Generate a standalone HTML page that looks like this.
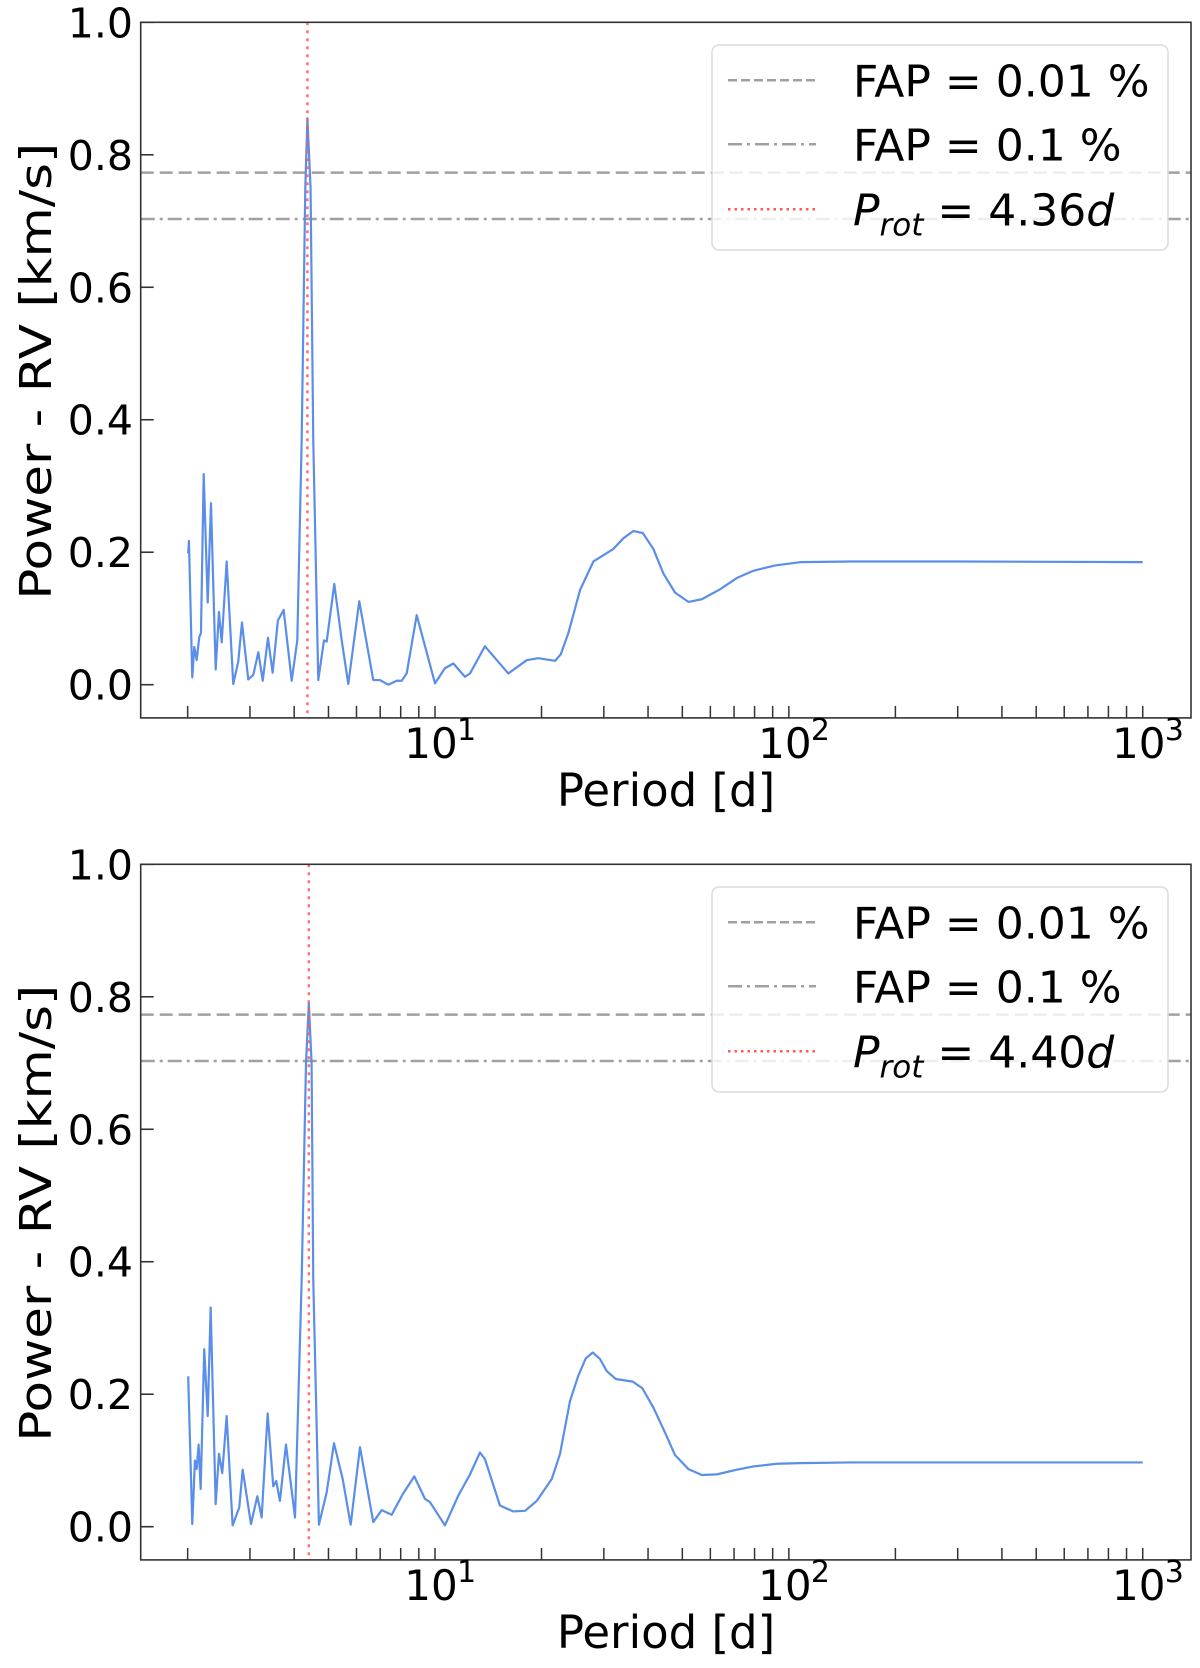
<!DOCTYPE html>
<html><head><meta charset="utf-8"><style>
html,body{margin:0;padding:0;background:#fff;}
svg{display:block;font-family:"DejaVu Sans","Liberation Sans",sans-serif;}
</style></head>
<body>
<svg id="fig" width="1200" height="1668" viewBox="0 0 1200 1668" xmlns="http://www.w3.org/2000/svg"></svg>
<script>
// ---- shared axis ticks ----
const yTicks = [0.0, 0.2, 0.4, 0.6, 0.8, 1.0];
const yTickLabels = ["0.0", "0.2", "0.4", "0.6", "0.8", "1.0"];
const xMajor = [10, 100, 1000];
const xMajorExp = ["1", "2", "3"];
const fapLevels = [0.773, 0.703];
const fapLabels = ["FAP = 0.01 %", "FAP = 0.1 %"];

// ---- panel 1 data ----
const period1 = [2.007,2.017,2.061,2.088,2.121,2.157,2.181,2.220,2.279,2.328,2.400,2.452,2.496,2.578,2.691,2.780,2.848,2.967,3.066,3.168,3.260,3.373,3.477,3.598,3.735,3.936,4.082,4.20,4.30,4.36,4.45,4.529,4.679,4.856,4.942,5.193,5.450,5.688,6.109,6.692,6.990,7.379,7.794,8.052,8.318,8.878,10.0,10.67,11.27,12.15,12.56,13.84,16.11,18.16,19.59,21.84,22.67,23.82,25.70,28.03,30.24,31.92,34.06,36.35,38.65,41.40,44.19,47.69,52.01,56.75,63.91,71.25,79.40,91.42,107.6,150,300,1000];
const power1 = [0.198,0.217,0.011,0.057,0.037,0.072,0.078,0.318,0.124,0.274,0.023,0.110,0.064,0.186,0.001,0.035,0.094,0.008,0.015,0.049,0.006,0.071,0.018,0.097,0.113,0.006,0.067,0.369,0.75,0.855,0.75,0.369,0.007,0.067,0.065,0.152,0.067,0.001,0.126,0.007,0.007,0.000,0.006,0.006,0.017,0.105,0.002,0.025,0.032,0.012,0.017,0.058,0.017,0.037,0.040,0.036,0.046,0.078,0.143,0.186,0.197,0.205,0.221,0.232,0.229,0.205,0.168,0.139,0.125,0.129,0.144,0.161,0.172,0.180,0.185,0.186,0.186,0.185];
const prot1 = 4.36;
const protLabel1 = "4.36";

// ---- panel 2 data ----
const period2 = [2.007,2.061,2.097,2.121,2.148,2.177,2.228,2.279,2.323,2.400,2.452,2.505,2.578,2.680,2.798,2.861,3.020,3.147,3.237,3.366,3.491,3.559,3.646,3.792,4.022,4.20,4.32,4.40,4.48,4.529,4.699,4.942,5.183,5.485,5.777,6.138,6.692,7.068,7.546,8.104,8.740,9.369,9.680,10.67,11.64,12.56,13.40,13.84,15.26,16.65,17.97,19.39,21.38,22.56,24.08,25.41,26.67,27.91,29.27,30.57,32.41,36.21,38.55,41.40,44.68,47.69,52.01,56.75,62.55,71.25,79.40,92.44,107.6,150,300,1000];
const power2 = [0.227,0.004,0.100,0.087,0.124,0.057,0.268,0.167,0.331,0.034,0.110,0.081,0.167,0.002,0.029,0.086,0.004,0.046,0.014,0.171,0.061,0.069,0.039,0.124,0.014,0.373,0.70,0.790,0.70,0.373,0.003,0.052,0.126,0.072,0.003,0.120,0.007,0.025,0.018,0.049,0.076,0.042,0.037,0.002,0.047,0.079,0.112,0.102,0.032,0.023,0.024,0.039,0.072,0.110,0.190,0.228,0.254,0.263,0.253,0.235,0.223,0.219,0.209,0.180,0.142,0.108,0.087,0.078,0.079,0.086,0.091,0.095,0.096,0.097,0.097,0.097];
const prot2 = 4.40;
const protLabel2 = "4.40";

const NS = "http://www.w3.org/2000/svg";
const svg = document.getElementById("fig");
function mk(tag, attrs, parent){
  const e = document.createElementNS(NS, tag);
  for (const k in attrs) e.setAttribute(k, attrs[k]);
  (parent || svg).appendChild(e);
  return e;
}

const L = 140.7, R = 1191;
const xMinLog = Math.log10(1.4735), xMaxLog = Math.log10(1369);
function xScale(p){ return L + (Math.log10(p) - xMinLog) / (xMaxLog - xMinLog) * (R - L); }

function drawPanel(top, period, power, prot, protLabel, idx){
  const bottom = top + 695.6;
  const y0 = top + 662.4; // value 0
  function yScale(v){ return y0 - v * 662.4; }
  const g = mk("g", {});
  
  

  const cid = "clip" + idx;
  const cp = mk("clipPath", {id: cid}, g);
  mk("rect", {x: L, y: top, width: R - L, height: bottom - top}, cp);
  const plot = mk("g", {"clip-path": "url(#" + cid + ")"}, g);

  // FAP lines
  const fapDash = ["13,6", "14,5,3,5"];
  fapLevels.forEach((v, i) => {
    const ln = mk("line", {x1: L, x2: R, y1: yScale(v), y2: yScale(v), stroke: "#a0a0a0", "stroke-width": 2.5, "stroke-dasharray": fapDash[i]}, plot);
    
    
  });

  // series
  let d = "";
  period.forEach((p, i) => { d += (i ? "L" : "M") + xScale(p).toFixed(2) + "," + yScale(power[i]).toFixed(2); });
  const path = mk("path", {d: d, fill: "none", stroke: "#5b8ee8", "stroke-width": 2.2, "stroke-linejoin": "round"}, plot);
  
  

  // rotation period line
  const rl = mk("line", {x1: xScale(prot), x2: xScale(prot), y1: top, y2: bottom, stroke: "#ff5a5a", "stroke-opacity": 0.85, "stroke-width": 2.5, "stroke-dasharray": "3,5"}, plot);
  
  

  // axes frame
  const fr = mk("rect", {x: L, y: top, width: R - L, height: bottom - top, fill: "none", stroke: "#333", "stroke-width": 1.6}, g);
  
  

  // y ticks
  yTicks.forEach((v, i) => {
    const y = yScale(v);
    mk("line", {x1: L, x2: L + 13, y1: y, y2: y, stroke: "#333", "stroke-width": 1.6}, g);
    const t = mk("text", {x: 133, y: y + 15, "text-anchor": "end", "font-size": 41, fill: "#000"}, g);
    t.textContent = yTickLabels[i];
    
    
  });

  // x minor + major ticks
  for (let e = 0; e <= 3; e++) {
    for (let m = 1; m <= 9; m++) {
      const p = m * Math.pow(10, e);
      const x = xScale(p);
      if (x < L + 1 || x > R - 1) continue;
      mk("line", {x1: x, x2: x, y1: bottom, y2: bottom - 12, stroke: "#333", "stroke-width": 1.5}, g);
    }
  }
  xMajor.forEach((p, i) => {
    const x = xScale(p);
    const t = mk("text", {x: x - 4, y: bottom + 40, "text-anchor": "middle", "font-size": 42, fill: "#000"}, g);
    t.textContent = "10";
    
    
    const s = mk("text", {x: x + 22, y: bottom + 22, "font-size": 30, fill: "#000"}, g);
    s.textContent = xMajorExp[i];
    
    
  });

  // axis labels
  const xl = mk("text", {x: 666, y: bottom + 88, "text-anchor": "middle", "font-size": 45, fill: "#000"}, g);
  xl.textContent = "Period [d]";
  
  
  const cy = top + 349;
  const yl = mk("text", {x: 0, y: 0, "text-anchor": "middle", "font-size": 44, fill: "#000", transform: "translate(51," + cy + ") rotate(-90)", textLength: 457, lengthAdjust: "spacingAndGlyphs"}, g);
  yl.textContent = "Power - RV  [km/s]";
  
  

  // legend
  const lg = mk("g", {}, g);
  
  
  mk("rect", {x: 712, y: top + 22.7, width: 456, height: 205, rx: 7, fill: "#fff", "fill-opacity": 0.82, stroke: "#dcdcdc", "stroke-width": 1.5}, lg);
  const rowY = [top + 58, top + 122, top + 187];
  const handleStyles = [
    {stroke: "#a0a0a0", "stroke-dasharray": "9,4"},
    {stroke: "#a0a0a0", "stroke-dasharray": "14,5,3,5"},
    {stroke: "#ff5a5a", "stroke-dasharray": "2.5,4"}
  ];
  rowY.forEach((y, i) => {
    const h = mk("line", Object.assign({x1: 728, x2: 816, y1: y, y2: y, "stroke-width": 2.5}, handleStyles[i]), lg);
    
    
  });
  for (let i = 0; i < 2; i++) {
    const t = mk("text", {x: 853, y: rowY[i] + 16, "font-size": 44, fill: "#000"}, lg);
    t.textContent = fapLabels[i];
    
    
  }
  const pt = mk("text", {x: 853, y: rowY[2] + 16, "font-size": 44, fill: "#000"}, lg);
  
  
  const t1 = mk("tspan", {"font-style": "italic"}, pt); t1.textContent = "P";
  const t2 = mk("tspan", {"font-style": "italic", "font-size": 31, dy: 10}, pt); t2.textContent = "rot";
  const t3 = mk("tspan", {dy: -10}, pt); t3.textContent = " = " + protLabel;
  const t4 = mk("tspan", {"font-style": "italic"}, pt); t4.textContent = "d";
}

drawPanel(22.3, period1, power1, prot1, protLabel1, 1);
drawPanel(864.3, period2, power2, prot2, protLabel2, 2);
</script>
</body></html>
